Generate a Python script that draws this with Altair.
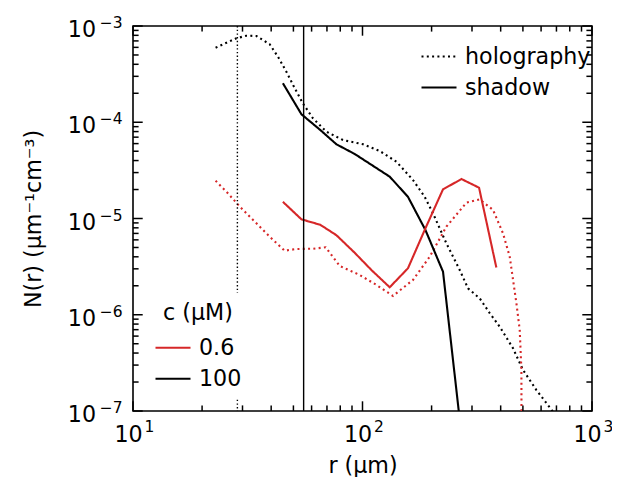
import altair as alt
import pandas as pd

# ---------------- data ----------------
# holography, c = 100 uM  (black dotted)
holo_100_r = [22.9, 28.2, 31.2, 34.5, 39.4, 42.8, 46.6, 50.7, 55.0, 60.8, 69.6, 82.2,
              100.5, 118.9, 140.5, 166.0, 186.6, 202.9, 232.0, 265.2, 288.2, 324.1,
              358.4, 396.2, 452.8, 500.5, 572.5, 654.3, 688.0]
holo_100_N = [5.95e-4, 7.45e-4, 7.93e-4, 7.87e-4, 6.46e-4, 4.80e-4, 3.35e-4, 2.25e-4,
              1.57e-4, 1.10e-4, 7.98e-5, 6.54e-5, 5.90e-5, 5.03e-5, 3.89e-5, 2.51e-5,
              1.68e-5, 1.13e-5, 5.52e-6, 2.92e-6, 1.88e-6, 1.48e-6, 1.04e-6, 7.51e-7,
              4.48e-7, 2.67e-7, 1.65e-7, 1.09e-7, 9.3e-8]

# holography, c = 0.6 uM  (red dotted)
holo_06_r = [22.9, 25.9, 29.2, 34.5, 39.4, 45.8, 51.5, 60.8, 69.1, 79.6, 97.2, 115.0,
             135.8, 166.0, 196.3, 232.0, 283.6, 324.1, 370.4, 409.5, 437.9, 468.3,
             484.2, 492.5, 493.0]
holo_06_N = [2.47e-5, 1.83e-5, 1.33e-5, 8.91e-6, 6.47e-6, 4.63e-6, 4.82e-6, 4.85e-6,
             5.02e-6, 3.21e-6, 2.59e-6, 2.04e-6, 1.57e-6, 2.30e-6, 4.01e-6, 8.22e-6,
             1.46e-5, 1.58e-5, 1.23e-5, 7.01e-6, 4.01e-6, 1.32e-6, 6.95e-7, 2.67e-7,
             8.0e-8]

# shadow, radius bins
shadow_r = [45.0, 54.2, 65.5, 77.0, 92.5, 109.6, 131.4, 157.8, 188.0, 224.3, 270.0,
            322.0, 383.0]
shadow_100_N = [2.54e-4, 1.21e-4, 8.3e-5, 5.9e-5, 4.68e-5, 3.6e-5, 2.72e-5, 1.68e-5,
                7.6e-6, 2.8e-6, 5.6e-8]
shadow_06_N = [1.49e-5, 9.8e-6, 8.6e-6, 6.7e-6, 4.4e-6, 2.9e-6, 1.93e-6, 3.04e-6,
               7.9e-6, 2.01e-5, 2.57e-5, 2.09e-5, 3.1e-6]

# detection limits (vertical lines)
holo_limit = [28.5]
shadow_limit = [55.4]

conc_levels = ["0.6", "100"]
conc_colors = ["#d62728", "black"]
methods = ["holography", "shadow"]

x_major = [10, 100, 1000]
x_minor = [20, 30, 40, 50, 60, 70, 80, 90, 200, 300, 400, 500, 600, 700, 800, 900]
y_major = [1e-7, 1e-6, 1e-5, 1e-4, 1e-3]
y_minor = [m * 10.0 ** e for e in range(-7, -3) for m in range(2, 10)]
tick_base = "10"
x_tick_exp = ["1", "2", "3"]
y_tick_exp = ["−7", "−6", "−5", "−4", "−3"]

# ---------------- tables ----------------
rows = []
for r, n in zip(holo_100_r, holo_100_N):
    rows.append(dict(r=r, N=n, c="100", method="holography"))
for r, n in zip(holo_06_r, holo_06_N):
    rows.append(dict(r=r, N=n, c="0.6", method="holography"))
for r, n in zip(shadow_r, shadow_100_N):
    rows.append(dict(r=r, N=n, c="100", method="shadow"))
for r, n in zip(shadow_r, shadow_06_N):
    rows.append(dict(r=r, N=n, c="0.6", method="shadow"))
df = pd.DataFrame(rows)

FONT = "DejaVu Sans"
FS = 22.2
FS_SUP = 15.5
W, H = 459, 385
MAJ = 9.7
MIN = 5.6
TICK_COLOR = "black"

xs = alt.Scale(type="log", domain=[10, 1000])
ys = alt.Scale(type="log", domain=[1e-7, 1e-3])


def arr_expr(labels, shift):
    return "[" + ",".join("'%s'" % t for t in labels) + "][round(log(datum.value)/LN10)%+d]" % shift


def lab_axis(orient, values, **kw):
    base = dict(orient=orient, values=values, ticks=False, domain=False, grid=False,
                labelFlush=False, labelOverlap=False, zindex=1, title="",
                labelBaseline="alphabetic")
    base.update(kw)
    return alt.Axis(**base)


ax_bottom = lab_axis("bottom", x_major, labelExpr="'%s'" % tick_base, labelPadding=30.7,
                     labelOffset=-5, title="r (μm)", titleY=61,
                     titleBaseline="alphabetic")
ax_left = lab_axis("left", y_major, labelExpr="'%s'" % tick_base, labelOffset=10.5,
                   labelPadding=37.5, title="N(r) (μm⁻¹cm⁻³)", titleX=-93,
                   titleBaseline="alphabetic")

lines = alt.Chart(df).mark_line(strokeWidth=2.1, clip=True, strokeCap="butt").encode(
    x=alt.X("r:Q", scale=xs, axis=ax_bottom),
    y=alt.Y("N:Q", scale=ys, axis=ax_left),
    color=alt.Color("c:N", scale=alt.Scale(domain=conc_levels, range=conc_colors),
                    legend=alt.Legend(orient="none", legendX=12, legendY=267,
                                      title="c (μM)", padding=9, fillColor="white",
                                      titleAnchor="middle", titlePadding=4.5,
                                      rowPadding=0, zindex=2)),
    strokeDash=alt.StrokeDash("method:N",
                              scale=alt.Scale(domain=methods, range=[[2, 3.3], [1, 0]]),
                              legend=alt.Legend(orient="none", legendX=287, legendY=11.5,
                                                title=None, padding=0, rowPadding=0,
                                                symbolStrokeColor="black")),
)

# superscript parts of the tick labels
l_sup = alt.Chart(df).mark_point(opacity=0, clip=True).encode(
    x=alt.X("r:Q", scale=xs,
            axis=lab_axis("bottom", x_major, labelExpr=arr_expr(x_tick_exp, -1),
                          labelFontSize=FS_SUP, labelPadding=20.7, labelOffset=16)),
    y=alt.Y("N:Q", scale=ys,
            axis=lab_axis("left", y_major, labelExpr=arr_expr(y_tick_exp, 7),
                          labelFontSize=FS_SUP, labelPadding=11, labelOffset=1.6)),
)

vl_holo = alt.Chart(pd.DataFrame({"r": holo_limit})).mark_rule(
    color="black", strokeWidth=1.4, strokeDash=[1.4, 2.3]).encode(
    x=alt.X("r:Q", scale=xs, axis=None))
vl_shadow = alt.Chart(pd.DataFrame({"r": shadow_limit})).mark_rule(
    color="black", strokeWidth=1.4).encode(x=alt.X("r:Q", scale=xs, axis=None))


# inward ticks on all four sides
def xticks(values, length):
    d = pd.DataFrame({"v": values})
    base = alt.Chart(d).mark_rule(color=TICK_COLOR, strokeWidth=1.5)
    bottom = base.encode(x=alt.X("v:Q", scale=xs, axis=None),
                         y=alt.value(H), y2=alt.value(H - length))
    top = base.encode(x=alt.X("v:Q", scale=xs, axis=None),
                      y=alt.value(0), y2=alt.value(length))
    return [bottom, top]


def yticks(values, length):
    d = pd.DataFrame({"v": values})
    base = alt.Chart(d).mark_rule(color=TICK_COLOR, strokeWidth=1.5)
    left = base.encode(y=alt.Y("v:Q", scale=ys, axis=None),
                       x=alt.value(0), x2=alt.value(length))
    right = base.encode(y=alt.Y("v:Q", scale=ys, axis=None),
                        x=alt.value(W), x2=alt.value(W - length))
    return [left, right]


tick_layers = (xticks(x_major, MAJ) + xticks(x_minor, MIN)
               + yticks(y_major, MAJ) + yticks(y_minor, MIN))

chart = alt.layer(lines, l_sup, vl_holo, vl_shadow, *tick_layers).resolve_axis(
    x="independent", y="independent"
).properties(
    width=W, height=H,
    padding={"left": 125, "top": 18, "right": 20, "bottom": 66},
    autosize=alt.AutoSizeParams(type="none"),
).configure_view(stroke="black", strokeWidth=1.6).configure_axis(
    labelFont=FONT, labelFontSize=FS, labelColor="black",
    titleFont=FONT, titleFontSize=FS, titleColor="black", titleFontWeight="normal",
).configure_legend(
    labelFont=FONT, labelFontSize=FS, labelColor="black",
    titleFont=FONT, titleFontSize=FS, titleColor="black", titleFontWeight="normal",
    symbolType="stroke", symbolSize=1225, symbolStrokeWidth=2.1, labelOffset=7,
)

chart.save("out.html", embed_options={"renderer": "svg", "actions": False})
